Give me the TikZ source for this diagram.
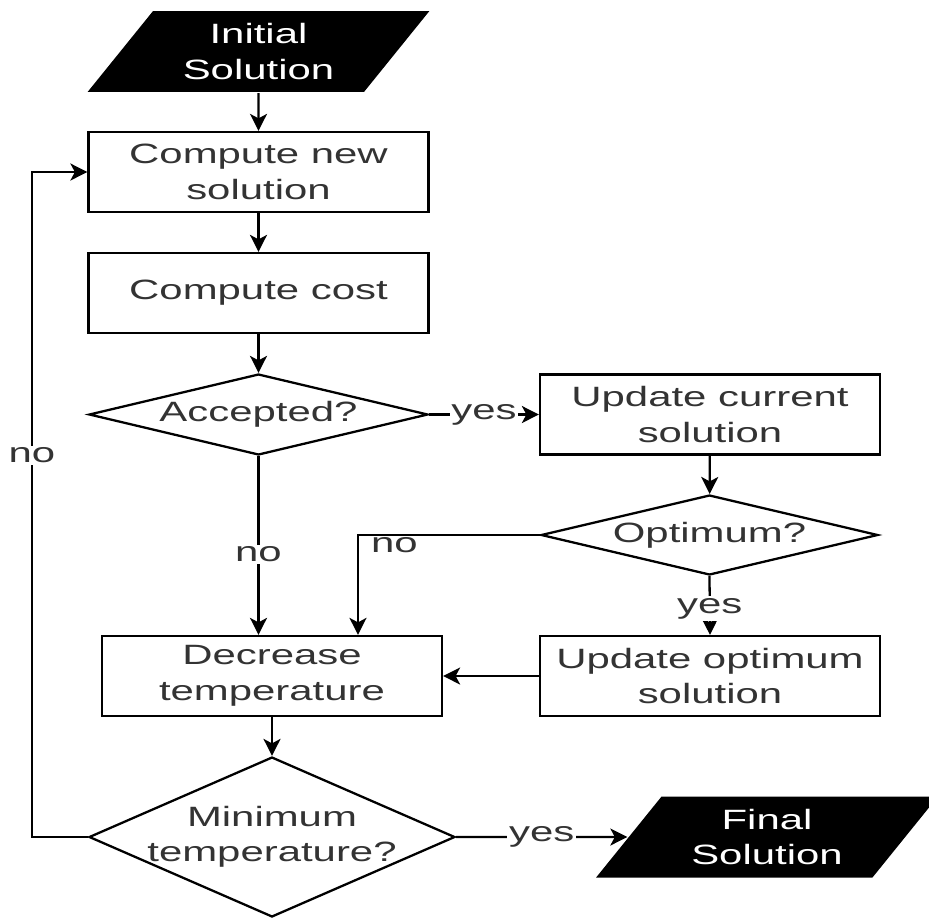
\documentclass[tikz,border=0pt]{standalone}
\usepackage{fontspec}
\setmainfont{Liberation Sans}[FakeStretch=1.5]
\usetikzlibrary{shapes.geometric,arrows.meta}
\begin{document}
\begin{tikzpicture}[x=0.02cm,y=-0.02cm,font=\fontsize{15.9pt}{20.2pt}\selectfont,line width=1.3pt]
    \definecolor{txtgray}{rgb}{0.2, 0.2, 0.2};
\tikzstyle{box}=[draw,rectangle,minimum width=6.8cm,minimum height=1.6cm,align=center,text=txtgray,inner sep=0pt]
\tikzstyle{decision}=[draw,diamond,aspect=4.19,minimum width=6.78cm,minimum height=1.62cm,align=center,text=txtgray,inner sep=0pt]
\tikzstyle{io}=[trapezium,trapezium left angle=50,trapezium right angle=130,trapezium stretches=true,fill=black,text=white,minimum width=6.84cm,minimum height=1.62cm,align=center,inner sep=0pt]
\tikzstyle{arr}=[-{Stealth[length=3.4mm,width=3.4mm,inset=0.9mm]}]
\tikzstyle{lbl}=[fill=white,inner sep=1pt,text=txtgray]
\useasboundingbox (0,0) rectangle (929,917);
% left column
\node [io] (init) at (258.5,51.5) {Initial\\Solution};
\node [box] (newsol) at (258.5,172) {Compute new\\solution};
\node [box] (cost) at (258.5,293) {Compute cost};
\node [decision] (accepted) at (258.5,414.5) {Accepted?};
\node [box] (decrease) at (272,676) {Decrease\\temperature};
\node [decision,aspect=2.29,inner xsep=-0.3cm,minimum width=7.32cm,minimum height=3.2cm] (mintemp) at (272,837) {Minimum\\temperature?};
% right column
\node [box] (curr) at (710,414.5) {Update current\\solution};
\node [decision,minimum width=6.74cm,minimum height=1.6cm] (optimum) at (709.5,535) {Optimum?};
\node [box] (optsol) at (710,676) {Update optimum\\solution};
\node [io] (final) at (767,837) {Final\\Solution};
% connectors
\draw [arr] (init) -- (newsol);
\draw [arr] (newsol) -- (cost);
\draw [arr] (cost) -- (accepted);
\draw [arr] (accepted.east) -- node[lbl,pos=0.5] {yes} (curr.west);
\draw [arr] (accepted.south) -- node[lbl,pos=0.55] {no} (accepted.south |- decrease.north);
\draw [arr] (curr) -- (optimum);
\draw [arr] (optimum.west) -| node[lbl,pos=0.4,yshift=-0.2cm] {no} ([xshift=1.72cm]decrease.north);
\draw [arr] (optimum.south) -- node[lbl,pos=0.55] {yes} (optsol.north);
\draw [arr] (optsol.west) -- (decrease.east);
\draw [arr] (decrease) -- (mintemp);
\draw [arr] (mintemp.east) -- node[lbl,pos=0.5] {yes} (final.west);
\draw [arr] (mintemp.west) -- ++(-56,0) coordinate (loop) |- node[lbl,pos=0.287] {no} (newsol.west);
\end{tikzpicture}
\end{document}
